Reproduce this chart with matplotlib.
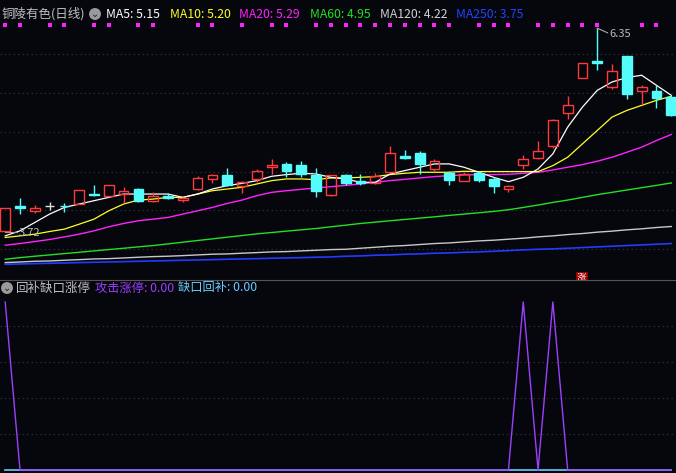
import matplotlib
matplotlib.use("Agg")
import matplotlib.pyplot as plt
import numpy as np

plt.rcParams["font.family"] = ["Noto Sans CJK SC", "DejaVu Sans"]

BG = "#06060d"
RED = "#ff3a3a"
CYAN = "#54fcfc"

# daily candles: open, close, high, low
opens = [3.733, 4.057, 3.984, 4.048, 4.060, 4.079, 4.208, 4.178, 4.208, 4.273,
         4.113, 4.187, 4.130, 4.273, 4.403, 4.459, 4.312, 4.403, 4.554, 4.601,
         4.588, 4.454, 4.195, 4.459, 4.381, 4.346, 4.489, 4.705, 4.744, 4.532,
         4.480, 4.381, 4.485, 4.398, 4.269, 4.588, 4.675, 4.826, 5.258, 5.712,
         5.923, 5.591, 5.988, 5.534, 5.534, 5.461]
closes = [4.027, 4.027, 4.022, 4.048, 4.050, 4.260, 4.191, 4.325, 4.243, 4.113,
          4.178, 4.156, 4.156, 4.416, 4.459, 4.329, 4.359, 4.506, 4.584, 4.511,
          4.472, 4.243, 4.450, 4.346, 4.346, 4.437, 4.740, 4.675, 4.597, 4.632,
          4.394, 4.463, 4.385, 4.312, 4.312, 4.662, 4.770, 5.167, 5.362, 5.906,
          5.906, 5.802, 5.496, 5.591, 5.448, 5.223]
highs = [4.027, 4.156, 4.061, 4.100, 4.092, 4.260, 4.325, 4.325, 4.295, 4.286,
         4.230, 4.225, 4.174, 4.437, 4.467, 4.541, 4.381, 4.532, 4.662, 4.619,
         4.640, 4.541, 4.459, 4.472, 4.472, 4.485, 4.822, 4.783, 4.770, 4.666,
         4.502, 4.489, 4.511, 4.424, 4.329, 4.718, 4.899, 5.180, 5.478, 5.906,
         6.350, 5.884, 5.988, 5.612, 5.612, 5.478]
lows = [3.720, 3.949, 3.962, 4.001, 3.979, 4.079, 4.187, 4.178, 4.087, 4.104,
        4.100, 4.148, 4.100, 4.260, 4.346, 4.316, 4.217, 4.359, 4.467, 4.424,
        4.424, 4.165, 4.187, 4.325, 4.329, 4.338, 4.480, 4.662, 4.467, 4.511,
        4.329, 4.372, 4.359, 4.217, 4.230, 4.532, 4.662, 4.804, 5.176, 5.712,
        5.815, 5.569, 5.435, 5.375, 5.318, 5.219]

ma5 = [3.668, 3.733, 3.841, 3.949, 4.035, 4.079, 4.122, 4.165, 4.208, 4.208,
       4.208, 4.208, 4.165, 4.208, 4.273, 4.316, 4.346, 4.381, 4.437, 4.459,
       4.476, 4.467, 4.424, 4.403, 4.359, 4.359, 4.467, 4.511, 4.554, 4.597,
       4.597, 4.554, 4.489, 4.424, 4.368, 4.424, 4.532, 4.727, 5.072, 5.331,
       5.547, 5.655, 5.712, 5.742, 5.612, 5.483]
ma10 = [3.647, 3.668, 3.690, 3.724, 3.755, 3.819, 3.884, 3.992, 4.079, 4.130,
        4.143, 4.165, 4.165, 4.208, 4.251, 4.273, 4.295, 4.338, 4.381, 4.403,
        4.403, 4.394, 4.416, 4.416, 4.424, 4.433, 4.459, 4.476, 4.489, 4.489,
        4.489, 4.502, 4.498, 4.498, 4.498, 4.498, 4.498, 4.575, 4.683, 4.856,
        5.029, 5.202, 5.288, 5.353, 5.418, 5.470]
ma20 = [3.547, 3.569, 3.595, 3.621, 3.655, 3.690, 3.733, 3.785, 3.828, 3.863,
        3.884, 3.906, 3.949, 3.992, 4.035, 4.087, 4.130, 4.187, 4.230, 4.251,
        4.269, 4.286, 4.303, 4.320, 4.338, 4.359, 4.381, 4.398, 4.416, 4.433,
        4.446, 4.454, 4.459, 4.459, 4.463, 4.476, 4.489, 4.519, 4.554, 4.588,
        4.632, 4.683, 4.748, 4.813, 4.899, 4.977]
ma60 = [3.366, 3.387, 3.405, 3.422, 3.439, 3.456, 3.474, 3.491, 3.508, 3.526,
        3.543, 3.564, 3.586, 3.608, 3.629, 3.651, 3.672, 3.694, 3.711, 3.729,
        3.746, 3.763, 3.785, 3.806, 3.828, 3.845, 3.863, 3.880, 3.897, 3.914,
        3.932, 3.949, 3.966, 3.984, 4.005, 4.035, 4.066, 4.100, 4.130, 4.165,
        4.200, 4.230, 4.260, 4.290, 4.320, 4.351]
ma120 = [3.323, 3.331, 3.340, 3.344, 3.353, 3.361, 3.370, 3.374, 3.383, 3.392,
         3.400, 3.405, 3.413, 3.422, 3.431, 3.435, 3.444, 3.452, 3.461, 3.465,
         3.474, 3.482, 3.491, 3.495, 3.508, 3.521, 3.534, 3.543, 3.556, 3.569,
         3.577, 3.590, 3.603, 3.612, 3.625, 3.638, 3.655, 3.668, 3.685, 3.698,
         3.716, 3.729, 3.746, 3.759, 3.776, 3.789]
ma250 = [3.301, 3.305, 3.310, 3.314, 3.318, 3.323, 3.327, 3.331, 3.335, 3.340,
         3.344, 3.348, 3.353, 3.357, 3.361, 3.366, 3.370, 3.374, 3.379, 3.383,
         3.387, 3.392, 3.396, 3.405, 3.409, 3.418, 3.422, 3.431, 3.435, 3.444,
         3.448, 3.456, 3.461, 3.469, 3.478, 3.487, 3.495, 3.500, 3.508, 3.517,
         3.526, 3.534, 3.543, 3.551, 3.560, 3.569]

signal_days = [0, 1, 3, 4, 6, 7, 9, 10, 13, 14, 16, 18, 19, 21, 22, 23, 24, 25,
               26, 27, 28, 29, 30, 32, 33, 34, 36, 37, 38, 39, 40, 43, 44]

attack = [100] + [0] * 34 + [100, 0, 100, 0] + [0] * 7
gapfill = [0] * 46

W, H = 6.76, 4.73
fig = plt.figure(figsize=(W, H), dpi=100, facecolor=BG)


def px_axes(top, bottom):
    return fig.add_axes([0, 1 - bottom / 473, 1, (bottom - top) / 473], facecolor=BG)


n = len(opens)
x = np.arange(n)
xlim = (-0.351, 45.32)

ax = px_axes(5, 279)
ax.set_xlim(*xlim)
ax.set_ylim(3.111, 6.649)
for gy in [3.50, 4.005, 4.498, 5.003, 5.508, 6.014]:
    ax.axhline(gy, color="#3a3a44", lw=0.8, ls=(0, (1, 3)))

ax.plot(x, ma250, color="#1f3cff", lw=1.2)
ax.plot(x, ma120, color="#c8c8c8", lw=1.0)
ax.plot(x, ma60, color="#22e022", lw=1.0)
ax.plot(x, ma20, color="#ff22ff", lw=1.0)
ax.plot(x, ma10, color="#ffff22", lw=0.9)
ax.plot(x, ma5, color="#ffffff", lw=0.9)

bw = 0.66
for i in range(n):
    o, c, h, l = opens[i], closes[i], highs[i], lows[i]
    if c > o:
        col = RED
        ax.vlines(i, c, h, color=col, lw=1)
        ax.vlines(i, l, o, color=col, lw=1)
        ax.add_patch(plt.Rectangle((i - bw / 2, o), bw, c - o, fill=False, ec=col, lw=1, zorder=3))
    elif c < o:
        col = CYAN
        ax.vlines(i, l, h, color=col, lw=1)
        ax.add_patch(plt.Rectangle((i - bw / 2, c), bw, o - c, fc=col, ec=col, lw=1, zorder=3))
    else:
        col = "#dddddd"
        ax.vlines(i, l, h, color=col, lw=1)
        ax.hlines(o, i - bw / 2, i + bw / 2, color=col, lw=1)

ax.scatter(signal_days, [6.39] * len(signal_days), marker="s", s=8, color="#ff22ff", lw=0)

ax.plot([40, 40.7], [6.35, 6.29], color="#aaaaaa", lw=0.8)
ax.text(40.8, 6.28, "6.35", color="#bbbbbb", fontsize=8, va="center")
ax.plot([0, 0.8], [3.72, 3.72], color="#aaaaaa", lw=0.8)
ax.text(0.9, 3.70, "3.72", color="#bbbbbb", fontsize=8, va="center")
ax.text(38.95, 3.13, "涨", color="white", fontsize=7, ha="center", va="center",
        bbox=dict(boxstyle="square,pad=0.1", fc="#9b0000", ec="none"))

ax.set_xticks([])
ax.set_yticks([])
for s in ax.spines.values():
    s.set_visible(False)

# header
fig.text(0.003, 1 - 14 / 473, "铜陵有色(日线)", color="#c0c0c0", fontsize=9, va="center")
fig.text(95 / 676, 1 - 14 / 473, "⌄", color="#222222", fontsize=7, va="center", ha="center",
         bbox=dict(boxstyle="circle,pad=0.1", fc="#9a9a9a", ec="none"))
hdr = [("MA5: 5.15", "#ffffff", 106), ("MA10: 5.20", "#ffff22", 170),
       ("MA20: 5.29", "#ff22ff", 239), ("MA60: 4.95", "#22e022", 310),
       ("MA120: 4.22", "#d0d0d0", 380), ("MA250: 3.75", "#2244ff", 456)]
for t, c, px in hdr:
    fig.text(px / 676, 1 - 14 / 473, t, color=c, fontsize=8.8, va="center")

fig.add_artist(plt.Line2D([0, 1], [1 - 280 / 473] * 2, color="#555555", lw=0.8))

ax2 = px_axes(281, 472)
ax2.set_xlim(*xlim)
ax2.set_ylim(-1.2, 112.5)
for gy in [21.5, 43, 64.5, 86]:
    ax2.axhline(gy, color="#3a3a44", lw=0.8, ls=(0, (1, 3)))
ax2.plot(x, gapfill, color="#66ccff", lw=1.2)
ax2.plot(x, attack, color="#9b40ff", lw=1.0)
ax2.set_xticks([])
ax2.set_yticks([])
for s in ax2.spines.values():
    s.set_visible(False)

fig.text(7 / 676, 1 - 288 / 473, "⌄", color="#222222", fontsize=7, va="center", ha="center",
         bbox=dict(boxstyle="circle,pad=0.1", fc="#9a9a9a", ec="none"))
fig.text(16 / 676, 1 - 288 / 473, "回补缺口涨停", color="#c0c0c0", fontsize=9, va="center")
fig.text(95 / 676, 1 - 288 / 473, "攻击涨停: 0.00", color="#9b40ff", fontsize=8.8, va="center")
fig.text(178 / 676, 1 - 288 / 473, "缺口回补: 0.00", color="#66ccff", fontsize=8.8, va="center")

fig.savefig("out.png", dpi=100, facecolor=BG)
